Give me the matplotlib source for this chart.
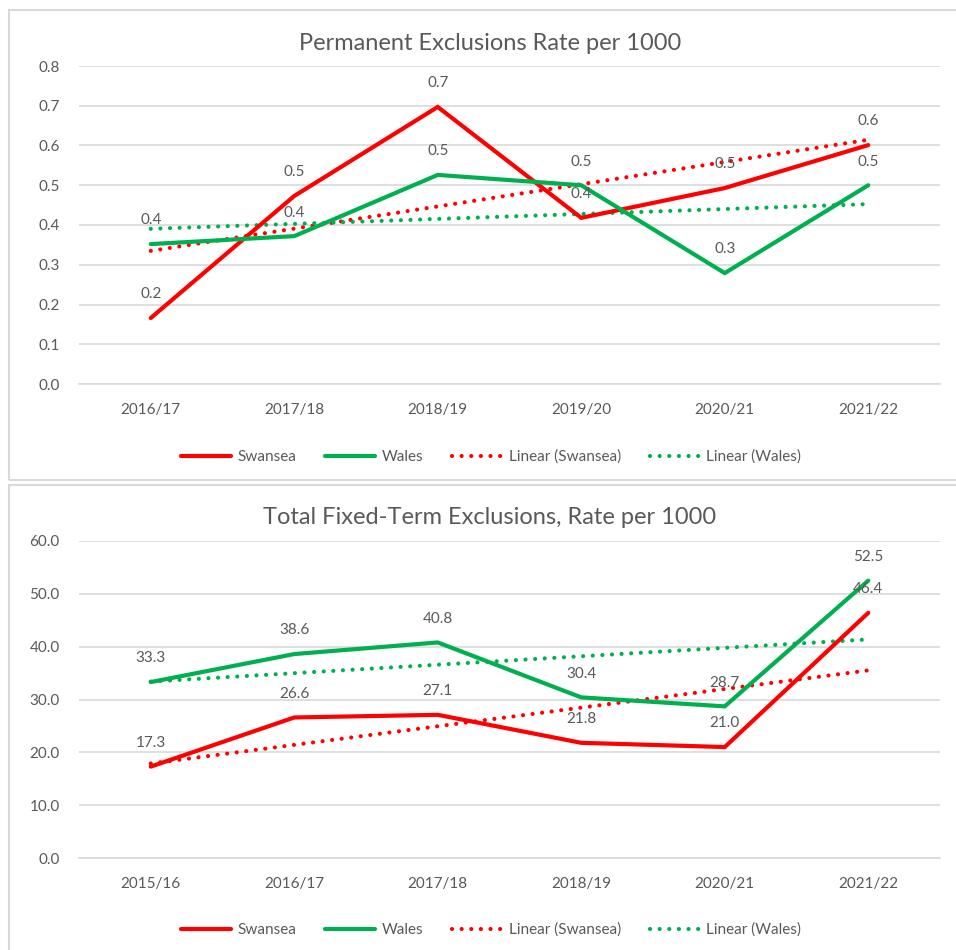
import matplotlib
matplotlib.use("Agg")
import matplotlib.pyplot as plt
import numpy as np
from matplotlib.patches import Rectangle

plt.rcParams["font.family"] = ["Lato", "DejaVu Sans"]

# ── data ────────────────────────────────────────────────────────────────────
perm_years = ["2016/17", "2017/18", "2018/19", "2019/20", "2020/21", "2021/22"]
perm_swansea = [0.166, 0.473, 0.697, 0.418, 0.493, 0.601]
perm_wales = [0.352, 0.372, 0.526, 0.500, 0.279, 0.500]

fixed_years = ["2015/16", "2016/17", "2017/18", "2018/19", "2020/21", "2021/22"]
fixed_swansea = [17.3, 26.6, 27.1, 21.8, 21.0, 46.4]
fixed_wales = [33.3, 38.6, 40.8, 30.4, 28.7, 52.5]

RED = "#FF0000"
GREEN = "#00B050"
TXT = "#595959"
GRID = "#D9D9D9"

W, H = 956, 950
fig = plt.figure(figsize=(W / 100, H / 100), dpi=100)

# panel borders (Excel chart areas)
for top, bot in [(10, 480), (485, 960)]:
    fig.patches.append(Rectangle((9 / W, 1 - bot / H), 1.0, (bot - top) / H,
                                 transform=fig.transFigure, fill=False,
                                 edgecolor=GRID, lw=1.5))


def panel(rect, years, sw, wa, ylim, step, fmt, title, title_y, legend_y):
    ax = fig.add_axes(rect)
    x = np.arange(len(years))
    ax.set_xlim(-0.5, len(years) - 0.5)
    ax.set_ylim(*ylim)
    ax.set_yticks(np.arange(ylim[0], ylim[1] + step / 2, step))
    ax.yaxis.set_major_formatter(matplotlib.ticker.FormatStrFormatter(fmt))
    ax.set_xticks(x)
    ax.set_xticklabels(years)
    ax.grid(axis="y", color=GRID, lw=1.2)
    ax.set_axisbelow(True)
    for s in ["top", "right", "left"]:
        ax.spines[s].set_visible(False)
    ax.spines["bottom"].set_color(GRID)
    ax.spines["bottom"].set_linewidth(1.2)
    ax.tick_params(length=0, colors=TXT, labelsize=11)
    ax.tick_params(axis="x", pad=14)
    ax.tick_params(axis="y", pad=14)

    ax.plot(x, sw, color=RED, lw=3, solid_capstyle="round",
            solid_joinstyle="miter", label="Swansea", zorder=3)
    ax.plot(x, wa, color=GREEN, lw=3, solid_capstyle="round",
            solid_joinstyle="miter", label="Wales", zorder=3)
    # linear trend lines like Excel
    xs = np.arange(1, len(years) + 1)
    for vals, col, lab in [(sw, RED, "Linear (Swansea)"), (wa, GREEN, "Linear (Wales)")]:
        k, b = np.polyfit(xs, vals, 1)
        ax.plot(x, k * xs + b, color=col, lw=3, linestyle=(0, (0.01, 2.3)),
                dash_capstyle="round", label=lab, zorder=2)

    for vals in [sw, wa]:
        for xi, v in zip(x, vals):
            ax.annotate(fmt % v, (xi, v), xytext=(0, 17), textcoords="offset points",
                        ha="center", va="center", fontsize=11, color=TXT, zorder=4)

    fig.text(0.5125, title_y, title, ha="center", va="center", fontsize=17, color=TXT)
    ax.legend(loc="center", bbox_to_anchor=(491 / W, legend_y), bbox_transform=fig.transFigure,
              ncol=4, frameon=False, fontsize=11, labelcolor=TXT, handlelength=3.3,
              columnspacing=1.9, handletextpad=0.4)
    return ax


panel([79 / W, 1 - 384 / H, 861 / W, 318 / H], perm_years, perm_swansea, perm_wales,
      (0, 0.8), 0.1, "%.1f", "Permanent Exclusions Rate per 1000",
      1 - 44 / H, 1 - 457 / H)
panel([79 / W, 1 - 858 / H, 861 / W, 317 / H], fixed_years, fixed_swansea, fixed_wales,
      (0, 60), 10, "%.1f", "Total Fixed-Term Exclusions, Rate per 1000",
      1 - 518 / H, 1 - 930 / H)

fig.savefig("out.png", dpi=100)
